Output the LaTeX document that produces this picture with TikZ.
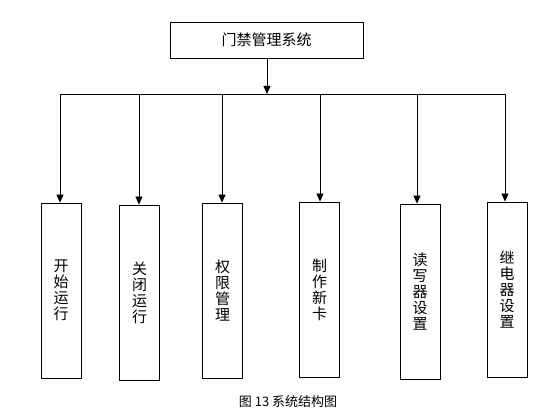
\documentclass[tikz,border=0pt]{standalone}
\usepackage{fontspec}
\setmainfont{Noto Sans CJK SC}
\usetikzlibrary{arrows.meta}
\tikzset{
  topbox/.style={draw, line width=0.8pt, minimum width=193pt, minimum height=36pt, inner sep=0pt, font=\fontsize{15}{16}\selectfont},
  modbox/.style={draw, line width=0.8pt, minimum width=40pt, minimum height=175pt, inner sep=0pt, align=center, font=\fontsize{15}{16}\selectfont},
  feed/.style={line width=0.8pt, -{Triangle[length=8pt,width=7pt]}}
}
\begin{document}
\begin{tikzpicture}[x=1pt,y=-1pt]
  \useasboundingbox (0,0) rectangle (558,417);

  \node [topbox] (sys) at (266.5,40) {门禁管理系统};

  \node [modbox] (start) at (61,290.5)  {开\\始\\运\\行};
  \node [modbox] (stop)  at (139.5,292.5) {关\\闭\\运\\行};
  \node [modbox] (auth)  at (222.5,290.5) {权\\限\\管\\理};
  \node [modbox] (card)  at (319.5,289.5) {制\\作\\新\\卡};
  \node [modbox] (rdr)   at (420,291.5) {读\\写\\器\\设\\置};
  \node [modbox] (relay) at (507,289.5) {继\\电\\器\\设\\置};

  % bus line
  \coordinate (busM) at (267,94);
  \coordinate (busL) at (60,94);
  \coordinate (bus2) at (139,94);
  \coordinate (bus3) at (222,94);
  \coordinate (bus4) at (320,94);
  \coordinate (bus5) at (417,94);
  \coordinate (busR) at (505,94);

  \draw [feed] (sys.south -| busM) -- (busM);
  \draw [line width=0.8pt] (busL) -- (busR);

  \draw [feed] (busL) -- (busL |- start.north);
  \draw [feed] (bus2) -- (bus2 |- stop.north);
  \draw [feed] (bus3) -- (bus3 |- auth.north);
  \draw [feed] (bus4) -- (bus4 |- card.north);
  \draw [feed] (bus5) -- (bus5 |- rdr.north);
  \draw [feed] (busR) -- (busR |- relay.north);

  \node [font=\fontsize{13}{15}\selectfont] (cap) at (288,402) {图 13 系统结构图};
\end{tikzpicture}
\end{document}
